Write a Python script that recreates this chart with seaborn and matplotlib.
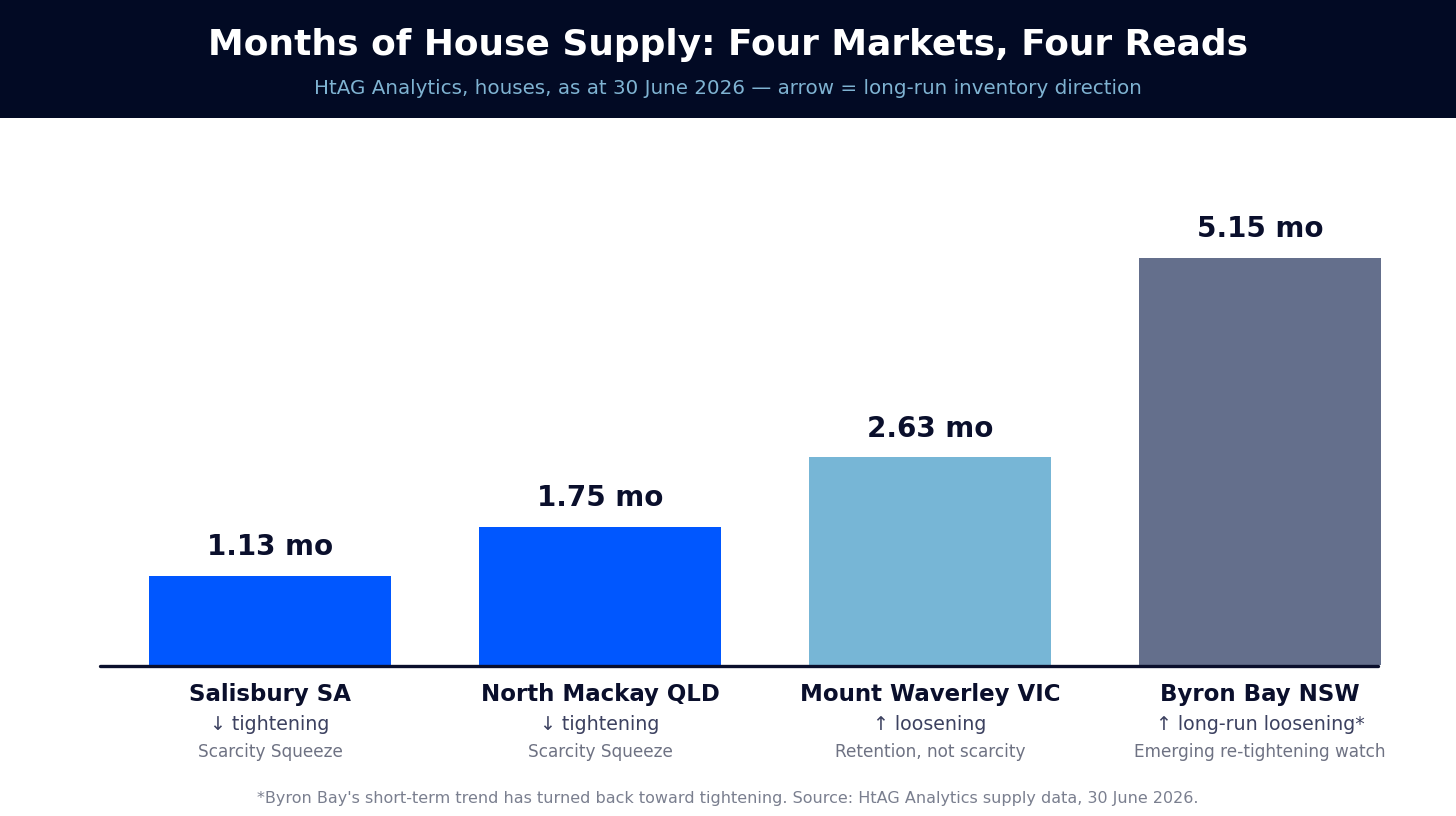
import matplotlib
matplotlib.use("Agg")
import matplotlib.pyplot as plt
import seaborn as sns
import pandas as pd
from matplotlib.patches import Rectangle
from matplotlib.transforms import blended_transform_factory

markets = ["Salisbury SA", "North Mackay QLD", "Mount Waverley VIC", "Byron Bay NSW"]
months_supply = [1.13, 1.75, 2.63, 5.15]
direction = ["↓ tightening", "↓ tightening", "↑ loosening", "↑ long-run loosening*"]
reads = ["Scarcity Squeeze", "Scarcity Squeeze", "Retention, not scarcity", "Emerging re-tightening watch"]
bar_colors = ["#0057FF", "#0057FF", "#77B6D6", "#646F8C"]

title = "Months of House Supply: Four Markets, Four Reads"
subtitle = "HtAG Analytics, houses, as at 30 June 2026 — arrow = long-run inventory direction"
footnote = "*Byron Bay's short-term trend has turned back toward tightening. Source: HtAG Analytics supply data, 30 June 2026."

NAVY = "#020A24"
TEXT = "#0A0F2C"

sns.set_theme(style="white")
plt.rcParams['font.family'] = ['DejaVu Sans']

W, H = 1456, 816
fig = plt.figure(figsize=(W / 100, H / 100), dpi=100)
fig.patch.set_facecolor("white")

# header band
fig.patches.append(Rectangle((0, 1 - 118 / H), 1, 118 / H, transform=fig.transFigure,
                             facecolor=NAVY, edgecolor="none", zorder=0))
fig.text(0.5, 1 - 45 / H, title, ha="center", va="center", color="white",
         fontsize=25.9, fontweight="bold")
fig.text(0.5, 1 - 88 / H, subtitle, ha="center", va="center", color="#7FB3D2",
         fontsize=14.3)

ax_left, ax_right = 100, 1420
ax_bottom, ax_top = 665, 140
ax = fig.add_axes([ax_left / W, 1 - ax_bottom / H, (ax_right - ax_left) / W, (ax_bottom - ax_top) / H])

df = pd.DataFrame({"market": markets, "months": months_supply})
sns.barplot(data=df, x="market", y="months", hue="market", palette=bar_colors,
            width=0.733, saturation=1, legend=False, ax=ax)
for p in ax.patches:
    p.set_clip_on(False)
    p.set_edgecolor("none")

ax.set_xlim(-0.515, 3.485)
ax.set_ylim(0, 6.64)
ax.set_xlabel("")
ax.set_ylabel("")
ax.set_xticks([])
ax.set_yticks([])
for s in ax.spines.values():
    s.set_visible(False)
ax.axhline(-0.013, xmin=0, xmax=(1378 - ax_left) / (ax_right - ax_left), color=TEXT, lw=2.4,
           zorder=5, clip_on=False)

for i, v in enumerate(months_supply):
    ax.annotate(f"{v:.2f} mo", xy=(i, v), xytext=(0, 20.5), textcoords="offset points",
                ha="center", va="center", fontsize=20, fontweight="bold", color=TEXT)

trans = blended_transform_factory(ax.transData, ax.transAxes)
for i in range(len(markets)):
    ax.annotate(markets[i], xy=(i, 0), xycoords=trans, xytext=(0, -21), textcoords="offset points",
                ha="center", va="center", fontsize=16.5, fontweight="bold", color=TEXT, annotation_clip=False)
    ax.annotate(direction[i], xy=(i, 0), xycoords=trans, xytext=(0, -42.5), textcoords="offset points",
                ha="center", va="center", fontsize=13.7, color="#3C4160", annotation_clip=False)
    ax.annotate(reads[i], xy=(i, 0), xycoords=trans, xytext=(0, -62.5), textcoords="offset points",
                ha="center", va="center", fontsize=12.2, color="#6E7283", annotation_clip=False)

fig.text(0.5, 1 - 798 / H, footnote, ha="center", va="center", color="#7A7F8F", fontsize=11.5)

fig.savefig("out.png", dpi=100, facecolor="white")
